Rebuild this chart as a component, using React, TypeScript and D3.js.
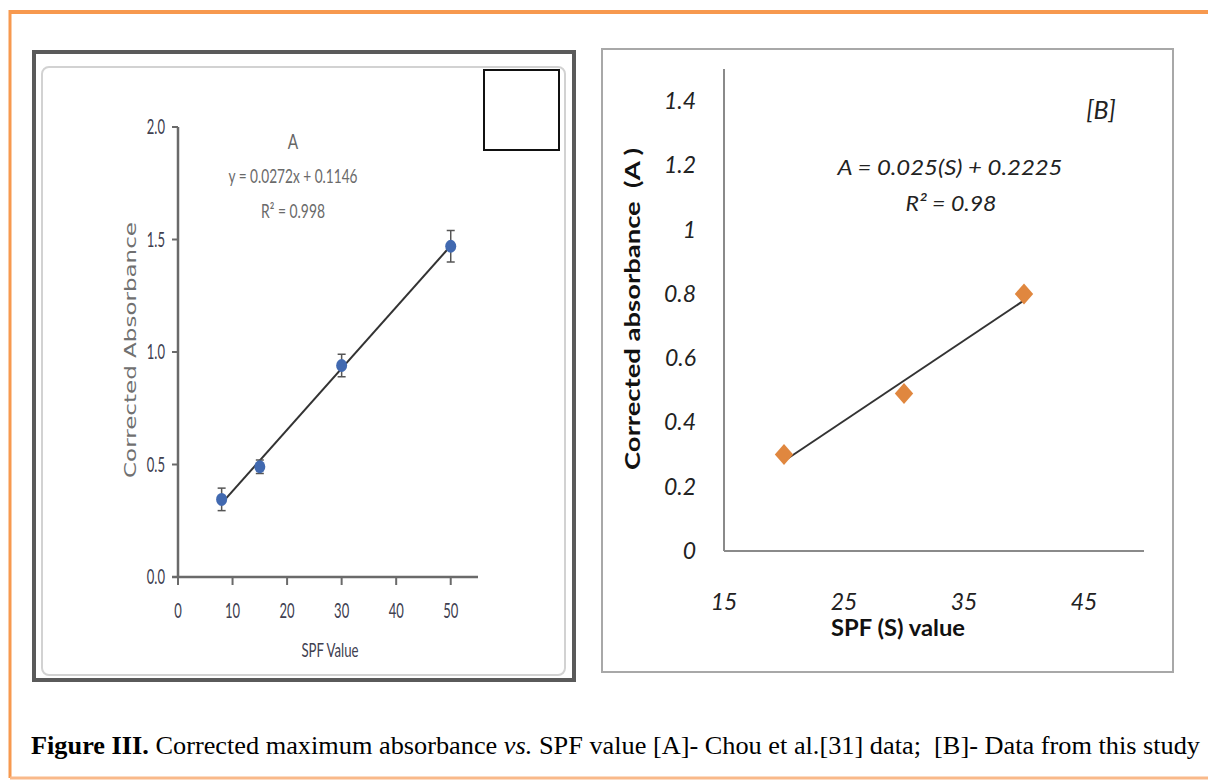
import * as d3 from 'd3';

// Panel A – Chou et al. data
const A_SPF = [8, 15, 30, 50];
const A_ABS = [0.345, 0.49, 0.94, 1.47];
const A_ERR = [0.05, 0.03, 0.05, 0.07];
const A_X_TICKS = [0, 10, 20, 30, 40, 50];
const A_Y_TICKS = [0, 0.5, 1, 1.5, 2];

// Panel B – this study
const B_SPF = [20, 30, 40];
const B_ABS = [0.3, 0.49, 0.8];
const B_X_TICKS = [15, 25, 35, 45];
const B_Y_TICKS = [0, 0.2, 0.4, 0.6, 0.8, 1, 1.2, 1.4];

const W = 1208;
const H = 780;

function fit(xs: number[], ys: number[]) {
  const mx = d3.mean(xs)!;
  const my = d3.mean(ys)!;
  const sxy = d3.sum(xs, (x, i) => (x - mx) * (ys[i] - my));
  const sxx = d3.sum(xs, (x) => (x - mx) ** 2);
  const slope = sxy / sxx;
  return { slope, intercept: my - slope * mx };
}

function Squeezed({
  x,
  y,
  sx = 0.62,
  anchor = 'middle',
  children,
  ...rest
}: any) {
  return (
    <g transform={`translate(${x},${y}) scale(${sx},1)`}>
      <text x={0} y={0} textAnchor={anchor} {...rest}>
        {children}
      </text>
    </g>
  );
}

function PanelA() {
  const x = d3.scaleLinear().domain([0, 55]).range([178, 478]);
  const y = d3.scaleLinear().domain([0, 2]).range([577, 127]);
  const reg = fit(A_SPF, A_ABS);
  const x0 = d3.min(A_SPF)!;
  const x1 = d3.max(A_SPF)!;
  const font = 'Lato, "Open Sans", sans-serif';

  return (
    <g>
      <rect x={34} y={52} width={540} height={628} fill="#fff" stroke="#5a5a5a" strokeWidth={4} />
      <rect x={42} y={67} width={523} height={608} rx={7} fill="#fff" stroke="#d2d2d2" strokeWidth={2} />
      <rect x={484} y={70} width={75} height={80} fill="#fff" stroke="#111" strokeWidth={2} />

      {/* axes */}
      <line x1={x(0)} x2={x(0)} y1={y(2)} y2={y(0)} stroke="#6a6a6a" strokeWidth={2.5} />
      <line x1={x(0) - 6} x2={x(55)} y1={y(0)} y2={y(0)} stroke="#6a6a6a" strokeWidth={2.5} />
      {A_Y_TICKS.map((t) => (
        <g key={t}>
          <line x1={x(0) - 6} x2={x(0)} y1={y(t)} y2={y(t)} stroke="#6a6a6a" strokeWidth={2} />
          <Squeezed x={x(0) - 13} y={y(t) + 7} anchor="end" fontFamily={font} fontSize={21} fill="#404050">
            {d3.format('.1f')(t)}
          </Squeezed>
        </g>
      ))}
      {A_X_TICKS.map((t) => (
        <g key={t}>
          <line x1={x(t)} x2={x(t)} y1={y(0)} y2={y(0) + 8} stroke="#6a6a6a" strokeWidth={2} />
          <Squeezed x={x(t)} y={618} fontFamily={font} fontSize={21} fill="#404050">
            {t}
          </Squeezed>
        </g>
      ))}

      <Squeezed x={330} y={657} sx={0.66} fontFamily={font} fontSize={20} fill="#404050">
        SPF Value
      </Squeezed>
      <text
        transform={`translate(136,350) rotate(-90)`}
        textAnchor="middle"
        fontFamily='"DejaVu Sans", Verdana, sans-serif'
        fontSize={16}
        fill="#707070"
        textLength={256}
        lengthAdjust="spacingAndGlyphs"
      >
        Corrected Absorbance
      </text>

      {/* annotation */}
      <Squeezed x={293} y={149} sx={0.7} fontFamily={font} fontSize={22} fill="#666">
        A
      </Squeezed>
      <text x={293} y={183} textAnchor="middle" fontFamily={font} fontSize={19} fill="#6a6a6a" textLength={129} lengthAdjust="spacingAndGlyphs">
        y = 0.0272x + 0.1146
      </text>
      <text x={293} y={218} textAnchor="middle" fontFamily={font} fontSize={19} fill="#6a6a6a" textLength={64} lengthAdjust="spacingAndGlyphs">
        R² = 0.998
      </text>

      {/* trend line */}
      <line
        x1={x(x0)}
        y1={y(reg.intercept + reg.slope * x0)}
        x2={x(x1)}
        y2={y(reg.intercept + reg.slope * x1)}
        stroke="#333"
        strokeWidth={2}
      />

      {/* points with error bars */}
      {A_SPF.map((s, i) => {
        const cx = x(s);
        const top = y(A_ABS[i] + A_ERR[i]);
        const bot = y(A_ABS[i] - A_ERR[i]);
        return (
          <g key={s}>
            <line x1={cx} x2={cx} y1={top} y2={bot} stroke="#555" strokeWidth={1.5} />
            <line x1={cx - 4} x2={cx + 4} y1={top} y2={top} stroke="#555" strokeWidth={1.5} />
            <line x1={cx - 4} x2={cx + 4} y1={bot} y2={bot} stroke="#555" strokeWidth={1.5} />
            <ellipse cx={cx} cy={y(A_ABS[i])} rx={5.5} ry={6.5} fill="#4169b0" />
          </g>
        );
      })}
    </g>
  );
}

function PanelB() {
  const x = d3.scaleLinear().domain([15, 50]).range([724, 1144]);
  const y = d3.scaleLinear().domain([0, 1.5]).range([551, 69]);
  const reg = fit(B_SPF, B_ABS);
  const x0 = d3.min(B_SPF)!;
  const x1 = d3.max(B_SPF)!;
  const font = 'Lato, "Open Sans", sans-serif';
  const diamond = d3.symbol(d3.symbolDiamond2, 240)();

  return (
    <g>
      <rect x={602} y={49} width={571} height={623} fill="#fff" stroke="#a8a8a8" strokeWidth={2} />

      <line x1={x(15)} x2={x(15)} y1={y(1.5)} y2={y(0)} stroke="#8a8a8a" strokeWidth={2} />
      <line x1={x(15)} x2={x(50)} y1={y(0)} y2={y(0)} stroke="#8a8a8a" strokeWidth={2} />

      {B_Y_TICKS.map((t) => (
        <text
          key={t}
          x={696}
          y={y(t) + 8}
          textAnchor="end"
          fontFamily={font}
          fontStyle="italic"
          fontSize={23}
          fill="#222"
        >
          {String(+t.toFixed(1))}
        </text>
      ))}
      {B_X_TICKS.map((t) => (
        <text
          key={t}
          x={x(t)}
          y={610}
          textAnchor="middle"
          fontFamily={font}
          fontStyle="italic"
          fontSize={23}
          fill="#222"
        >
          {t}
        </text>
      ))}

      <text x={898} y={636} textAnchor="middle" fontFamily={font} fontWeight="bold" fontSize={22} fill="#111" textLength={134} lengthAdjust="spacingAndGlyphs">
        SPF (S) value
      </text>
      <text
        transform="translate(640,309) rotate(-90)"
        textAnchor="middle"
        fontFamily={font}
        fontWeight="bold"
        fontSize={21}
        fill="#111"
        textLength={322}
        lengthAdjust="spacingAndGlyphs"
        style={{ whiteSpace: 'pre' }}
      >
        {'Corrected absorbance  (A )'}
      </text>

      <text x={1101} y={119} textAnchor="middle" fontFamily={font} fontStyle="italic" fontSize={25} fill="#222">
        [B]
      </text>
      <text x={950} y={175} textAnchor="middle" fontFamily={font} fontStyle="italic" fontSize={22} fill="#222" textLength={225} lengthAdjust="spacingAndGlyphs">
        A = 0.025(S) + 0.2225
      </text>
      <text x={951} y={211} textAnchor="middle" fontFamily={font} fontStyle="italic" fontSize={22} fill="#222" textLength={91} lengthAdjust="spacingAndGlyphs">
        R² = 0.98
      </text>

      <line
        x1={x(x0)}
        y1={y(reg.intercept + reg.slope * x0)}
        x2={x(x1)}
        y2={y(reg.intercept + reg.slope * x1)}
        stroke="#333"
        strokeWidth={2}
      />
      {B_SPF.map((s, i) => (
        <path
          key={s}
          d={diamond ?? ''}
          transform={`translate(${x(s)},${y(B_ABS[i])}) scale(0.95,1.08)`}
          fill="#e0873f"
        />
      ))}
    </g>
  );
}

export default function App() {
  return (
    <svg
      width={W}
      height={H}
      viewBox={`0 0 ${W} ${H}`}
      style={{ position: 'absolute', left: 0, top: 0, background: '#fff' }}
    >
      <rect width={W} height={H} fill="#fff" />
      {/* orange frame */}
      <line x1={10} x2={W} y1={12} y2={12} stroke="#f7994f" strokeWidth={4} />
      <line x1={10} x2={10} y1={10} y2={778} stroke="#f7994f" strokeWidth={3} />
      <line x1={10} x2={W} y1={778} y2={778} stroke="#f9b98a" strokeWidth={3} />

      <PanelA />
      <PanelB />

      <text
        x={31}
        y={754}
        fontFamily='"Liberation Serif", "Times New Roman", serif'
        fontSize={25}
        fill="#000"
        textLength={1169}
        lengthAdjust="spacingAndGlyphs"
        style={{ whiteSpace: 'pre' }}
      >
        <tspan fontWeight="bold">Figure III.</tspan>
        <tspan>{' Corrected maximum absorbance '}</tspan>
        <tspan fontStyle="italic">vs.</tspan>
        <tspan>{' SPF value [A]- Chou et al.[31] data;  [B]- Data from this study'}</tspan>
      </text>
    </svg>
  );
}
